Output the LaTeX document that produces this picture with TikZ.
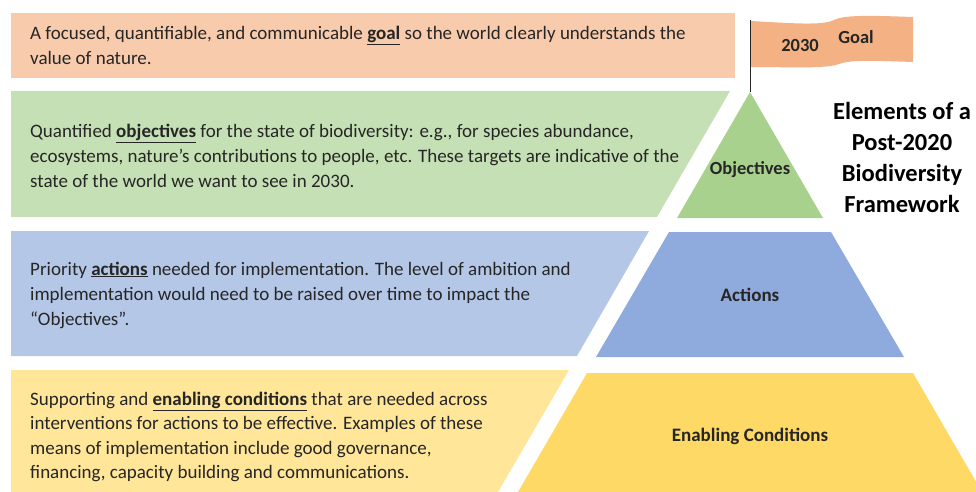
\documentclass[tikz,border=0pt]{standalone}
\usepackage{fontspec}
\setmainfont{Carlito}
\definecolor{goalc}{HTML}{F8CBAD}
\definecolor{flagc}{HTML}{F4B183}
\definecolor{objband}{HTML}{C5E0B4}
\definecolor{objtri}{HTML}{A9D18E}
\definecolor{actband}{HTML}{B4C7E7}
\definecolor{acttrap}{HTML}{8FAADC}
\definecolor{enband}{HTML}{FFE699}
\definecolor{entrap}{HTML}{FFD966}
\definecolor{txt}{HTML}{262626}
\newcommand{\keyw}[1]{\underline{\textbf{#1}}}
\tikzset{
  body/.style={anchor=west, align=left, inner sep=0pt, text=txt,
    font=\fontsize{19}{25}\selectfont},
  lbl/.style={inner sep=0pt, text=txt, font=\fontsize{18.5}{20}\selectfont\bfseries},
}
\begin{document}
\begin{tikzpicture}[x=1pt,y=-1pt]
\useasboundingbox (0,0) rectangle (976,492);
% bands
\fill[goalc] (11,13) rectangle (735,78);
\fill[objband] (11,91) -- (730,91) -- (657,217) -- (11,217) -- cycle;
\fill[actband] (11,231) -- (649,231) -- (577,356) -- (11,356) -- cycle;
\fill[enband] (11,370) -- (569,370) -- (498,492) -- (11,492) -- cycle;
% pyramid
\fill[objtri] (750,92) -- (823,218) -- (677,218) -- cycle;
\fill[acttrap] (669,232) -- (831,232) -- (904,357) -- (596,357) -- cycle;
\fill[entrap] (587,373) -- (913,373) -- (976,481.7) -- (976,492) -- (518,492) -- cycle;
% flag
\fill[flagc] (750,21) .. controls (790,23) and (822,26) .. (834,20)
  .. controls (846,14) and (880,16) .. (913,17) -- (913,62)
  .. controls (880,61) and (852,59) .. (839,64)
  .. controls (826,69) and (790,67) .. (750,67) -- cycle;
\coordinate (apex) at (750,92);
\coordinate (top) at (750,20);
\draw[line width=0.8pt, txt] (apex) -- (top);
\node[lbl] (y2030) at (800,45) {2030};
\node[lbl] (goallbl) at (856,37) {Goal};
% title
\node[align=center, inner sep=0pt, text=black,
  font=\fontsize{24.5}{31}\selectfont\bfseries] (title) at (902,157)
  {Elements of a\\Post-2020\\Biodiversity\\Framework};
% pyramid labels
\node[lbl, font=\fontsize{18.5}{20}\selectfont\bfseries] (objlbl) at (750,170) {Objectives};
\node[lbl, font=\fontsize{19}{20}\selectfont\bfseries] (actlbl) at (750,295) {Actions};
\node[lbl, font=\fontsize{19}{20}\selectfont\bfseries] (enlbl) at (750,436) {Enabling Conditions};
% body texts
\node[body] (goaltxt) at (30,45.5) {A focused, quantifiable, and communicable \keyw{goal} so the world clearly understands the\\value of nature.};
\node[body] (objtxt) at (30,156) {Quantified \keyw{objectives} for the state of biodiversity: e.g., for species abundance,\\ecosystems, nature’s contributions to people, etc. These targets are indicative of the\\state of the world we want to see in 2030.};
\node[body] (acttxt) at (30,295) {Priority \keyw{actions} needed for implementation. The level of ambition and\\implementation would need to be raised over time to impact the\\“Objectives”.};
\node[body, font=\fontsize{19}{24.5}\selectfont] (entxt) at (30,437) {Supporting and \keyw{enabling conditions} that are needed across\\interventions for actions to be effective. Examples of these\\means of implementation include good governance,\\financing, capacity building and communications.};
\end{tikzpicture}
\end{document}
